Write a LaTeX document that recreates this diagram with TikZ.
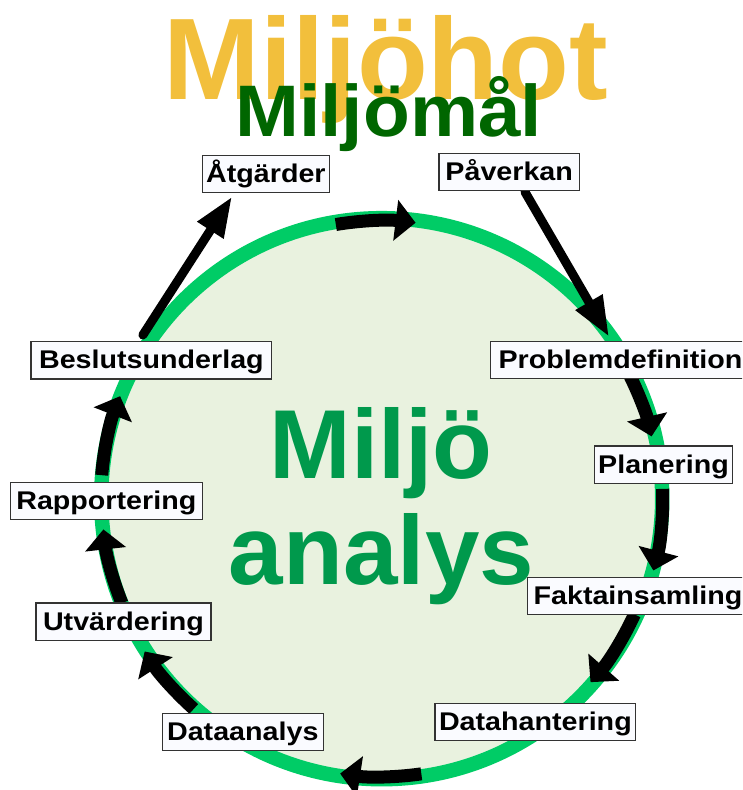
\documentclass[tikz,border=0pt]{standalone}
\usepackage{fontspec}
\setmainfont{Liberation Sans}
\newfontfamily\labfont[FakeStretch=1.12]{Liberation Sans}
\newfontfamily\malfont[FakeStretch=1.05]{Liberation Sans}
\usetikzlibrary{arrows.meta,calc}
\definecolor{hotyellow}{RGB}{242,191,60}
\definecolor{maldark}{RGB}{0,102,0}
\definecolor{midgreen}{RGB}{0,153,76}
\definecolor{ringgreen}{RGB}{0,204,102}
\definecolor{circfill}{RGB}{233,242,223}
\definecolor{labfill}{RGB}{250,251,255}
\definecolor{labborder}{RGB}{51,51,51}
\begin{document}
\begin{tikzpicture}[x=1pt,y=1pt,
  lab/.style={draw=labborder, line width=1.2pt, fill=labfill,
    font=\labfont\bfseries\fontsize{25.6}{30}\selectfont,
    inner xsep=4pt, inner ysep=8.8pt, text height=18.3pt, text depth=1.3pt,
    minimum height=37pt},
  cycarrow/.style={line width=13pt, -{Triangle[width=40pt,length=20pt]}},
  straightarr/.style={line width=9pt, line cap=round, -{Triangle[width=29pt,length=40pt]}},
  bigtext/.style={anchor=base, inner sep=0pt}]
\useasboundingbox (0,0) rectangle (742,790);
\clip (0,0) rectangle (742,790);

% ring
\coordinate (C) at (381.7,291.3);
\fill[circfill] (C) circle[radius=280.5];
\draw[ringgreen, line width=14.5pt] (C) circle[radius=280.5];

% centre text
\node[bigtext, text=midgreen, font=\bfseries\fontsize{98}{100}\selectfont] (m1) at (381.2,311.7) {Miljö};
\node[bigtext, text=midgreen, font=\bfseries\fontsize{98}{100}\selectfont] (m2) at (381.5,205) {analys};

% points on the ring
\coordinate (a1s) at ($(C)+(99.5:278)$);
\coordinate (a4s) at ($(C)+(26.4:277)$);
\coordinate (a5s) at ($(C)+(2:281)$);
\coordinate (a6s) at ($(C)+(-24.6:278)$);
\coordinate (a7s) at ($(C)+(-81.8:278)$);
\coordinate (a8s) at ($(C)+(-131.8:282)$);
\coordinate (a9s) at ($(C)+(-158.1:280)$);
\coordinate (a10s) at ($(C)+(175.2:281)$);

% cycle arrows
\draw[cycarrow] (a1s) arc[start angle=99.5, end angle=83, radius=278];
\draw[cycarrow] (a4s) arc[start angle=26.4, end angle=13, radius=277];
\draw[cycarrow] (a5s) arc[start angle=2, end angle=-14.8, radius=281];
\draw[cycarrow] (a6s) arc[start angle=-24.6, end angle=-41.3, radius=278];
\draw[cycarrow] (a7s) arc[start angle=-81.8, end angle=-98.6, radius=278];
\draw[cycarrow] (a8s) arc[start angle=-131.8, end angle=-147.2, radius=282];
\draw[cycarrow] (a9s) arc[start angle=-158.1, end angle=-173.7, radius=280];
\draw[cycarrow] (a10s) arc[start angle=175.2, end angle=158.6, radius=281];

% straight arrows
\coordinate (pavs) at (525,598);
\coordinate (pdt) at (609,453.3);
\coordinate (besls) at (142.9,455);
\coordinate (atgt) at (232,593.3);
\draw[straightarr] (pavs) -- (pdt);
\draw[straightarr] (besls) -- (atgt);

% labels
\node[lab, minimum width=126.3pt] (atg) at (265.9,616.1) {Åtgärder};
\node[lab, minimum width=140.3pt] (pav) at (509.2,618) {Påverkan};
\node[lab, anchor=west, inner xsep=8pt] (pd) at (490,429.7) {Problemdefinition};
\node[lab, minimum width=138.4pt] (plan) at (663.5,325.3) {Planering};
\node[lab, anchor=west, inner xsep=6.3pt] (fakt) at (526.7,193.7) {Faktainsamling};
\node[lab, minimum width=200.7pt] (dhant) at (535.4,67.8) {Datahantering};
\node[lab, minimum width=161pt] (danal) at (242.8,57.7) {Dataanalys};
\node[lab, minimum width=175pt] (utv) at (123.5,168.3) {Utvärdering};
\node[lab, minimum width=192pt] (rapp) at (106.3,288.8) {Rapportering};
\node[lab, minimum width=240.7pt] (besl) at (151.4,429.5) {Beslutsunderlag};

% titles
\node[bigtext, text=hotyellow, font=\bfseries\fontsize{116}{120}\selectfont] (hot) at (386,690.7) {Miljöhot};
\node[bigtext, text=maldark, font=\malfont\bfseries\fontsize{73}{80}\selectfont] (mal) at (388.8,653.3) {Miljömål};
\end{tikzpicture}
\end{document}
